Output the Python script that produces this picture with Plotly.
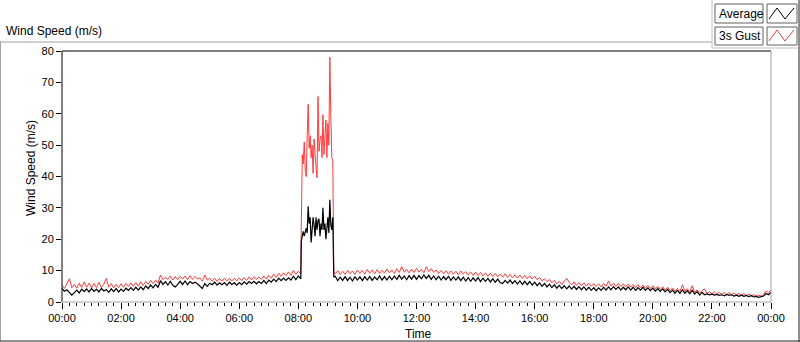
import numpy as np
import pandas as pd
import plotly.graph_objects as go

# ---------------- data (m/s) ----------------
# 00:00 - 08:05, every 5 minutes
avg_seg1 = [4.3, 3.4, 3.9, 2.9, 2.2, 3.0, 3.8, 2.9, 4.1, 3.3,
            4.2, 3.2, 4.3, 3.4, 4.1, 3.2, 4.3, 3.5, 4.0, 3.1,
            4.2, 3.3, 4.3, 3.2, 4.1, 3.4, 4.4, 3.7, 4.6, 3.7,
            4.7, 3.8, 4.8, 3.9, 5.1, 4.3, 5.4, 4.5, 5.6, 4.7,
            6.8, 5.6, 6.5, 5.4, 6.6, 5.3, 4.8, 5.6, 6.6, 5.6,
            6.7, 5.5, 6.5, 5.9, 6.3, 5.8, 5.2, 4.3, 5.9, 5.0,
            6.0, 5.5, 6.3, 5.4, 6.1, 5.5, 6.2, 5.3, 6.3, 5.6,
            6.1, 5.4, 6.2, 5.5, 6.4, 5.7, 6.5, 5.9, 6.6, 5.8,
            6.5, 5.9, 6.9, 5.9, 7.0, 6.3, 7.3, 6.5, 7.6, 6.8,
            7.6, 6.9, 7.7, 7.0, 8.2, 7.1, 8.3, 7.4]
gust_seg1 = [5.4, 4.3, 5.8, 7.4, 4.6, 5.6, 4.4, 6.0, 4.6, 6.4,
             4.7, 6.0, 4.5, 5.9, 4.6, 6.3, 4.6, 5.7, 7.5, 4.7,
             5.9, 4.5, 5.6, 4.6, 5.8, 4.7, 5.9, 4.9, 6.1, 5.0,
             6.2, 5.0, 6.4, 5.3, 6.6, 5.6, 6.9, 5.9, 7.0, 6.1,
             8.6, 7.1, 7.9, 7.2, 8.3, 7.0, 8.1, 7.1, 8.2, 7.3,
             8.3, 7.1, 8.4, 7.2, 8.2, 7.3, 7.7, 6.6, 8.6, 7.0,
             7.6, 6.6, 7.6, 6.6, 7.5, 6.6, 7.6, 6.7, 7.5, 6.7,
             7.6, 6.7, 7.7, 6.8, 7.8, 6.9, 8.0, 7.0, 8.1, 7.2,
             8.0, 7.2, 8.3, 7.3, 8.5, 7.6, 8.9, 7.9, 9.2, 8.2,
             9.3, 8.4, 9.6, 8.5, 10.1, 8.8, 9.8, 9.0]

# 08:06 - 09:12 storm, every 2 minutes
avg_storm = [19.5, 21, 22.5, 21, 23, 23.5, 22, 30.5, 25, 27,
             19, 24, 27, 24.4, 21, 27, 23, 26, 26.5, 21,
             25, 23, 30, 23, 25, 20, 24, 27, 22, 32.6,
             24.5, 23, 27, 8]
gust_storm = [24, 47, 44, 51, 42, 40, 53, 63, 49, 53,
              46, 50, 41, 52, 47, 43, 39.6, 65.5, 48, 52,
              53, 46, 59.7, 47, 52, 58, 46, 57, 50, 78,
              59, 46, 45, 10]

# 09:15 - 24:00, every 5 minutes
avg_seg3 = [8.2, 6.8, 7.9, 6.9, 8.1, 6.8, 7.9, 6.7, 8.0, 7.0,
            8.0, 6.8, 8.1, 7.0, 8.1, 6.9, 8.0, 7.1, 8.3, 7.0,
            8.1, 7.0, 8.2, 7.1, 8.3, 7.2, 8.5, 7.3, 8.3, 7.1,
            8.4, 7.3, 8.5, 7.2, 8.4, 7.4, 8.6, 7.5, 8.5, 7.2,
            8.3, 7.1, 8.2, 7.0, 8.1, 7.1, 8.2, 6.9, 8.0, 7.0,
            8.0, 6.8, 7.9, 6.7, 7.8, 6.6, 7.7, 6.7, 7.8, 6.5,
            7.6, 6.6, 7.5, 6.4, 7.4, 6.3, 7.3, 6.2, 5.9, 6.9,
            6.0, 7.0, 5.9, 6.8, 5.7, 6.7, 5.6, 6.6, 5.5, 6.5,
            5.4, 6.3, 5.2, 6.1, 5.0, 5.9, 4.8, 5.7, 4.6, 5.5,
            4.4, 5.3, 4.3, 5.2, 4.2, 5.1, 4.1, 5.0, 4.0, 4.9,
            3.9, 4.8, 3.8, 4.7, 3.7, 4.6, 3.6, 4.5, 3.7, 4.7,
            3.8, 4.8, 3.9, 4.9, 4.0, 4.8, 3.8, 4.7, 3.9, 4.8,
            3.8, 4.7, 3.7, 4.6, 3.8, 4.7, 3.7, 4.5, 3.6, 4.4,
            3.5, 4.3, 3.4, 4.2, 3.2, 4.0, 3.0, 3.8, 2.8, 3.7,
            2.7, 3.9, 2.8, 3.6, 2.6, 3.7, 2.5, 3.3, 2.2, 3.1,
            2.3, 2.6, 2.3, 2.5, 2.2, 2.4, 2.1, 2.3, 2.0, 2.4,
            2.1, 2.3, 1.9, 2.2, 1.8, 2.2, 1.8, 2.1, 1.7, 2.0,
            1.6, 1.8, 1.5, 1.8, 1.9, 2.7, 2.3, 3.1]
gust_seg3 = [8.9, 10.0, 8.7, 9.8, 8.8, 10.1, 9.0, 9.9, 8.8, 10.2,
             9.1, 10.1, 8.9, 10.4, 9.2, 10.2, 9.0, 10.3, 9.1, 10.1,
             9.2, 10.5, 9.3, 10.2, 9.1, 10.6, 9.4, 11.3, 9.5, 10.4,
             9.3, 10.5, 9.4, 10.7, 9.5, 10.4, 9.3, 11.3, 9.7, 10.6,
             9.4, 10.2, 9.1, 10.1, 9.0, 10.0, 8.9, 9.9, 8.8, 9.8,
             8.7, 9.9, 8.9, 9.7, 8.6, 9.6, 8.5, 9.5, 8.4, 9.4,
             8.3, 9.3, 8.2, 9.2, 8.1, 9.1, 8.0, 8.9, 7.9, 9.0,
             7.8, 8.8, 7.7, 8.7, 7.6, 8.6, 7.5, 8.5, 7.4, 8.4,
             7.3, 8.2, 7.1, 7.8, 6.7, 7.5, 6.5, 7.2, 6.1, 6.9,
             5.8, 6.6, 5.6, 6.5, 7.6, 6.3, 5.4, 6.4, 5.3, 6.2,
             5.2, 6.1, 5.1, 6.0, 5.0, 5.9, 4.9, 5.8, 4.8, 5.9,
             5.0, 6.7, 5.1, 6.0, 5.0, 5.9, 4.9, 5.8, 4.8, 5.7,
             4.7, 5.6, 4.6, 5.5, 4.5, 5.4, 4.4, 5.3, 4.3, 5.2,
             4.2, 5.0, 4.0, 4.9, 3.8, 4.7, 3.6, 4.5, 3.4, 4.3,
             3.3, 5.5, 3.5, 4.2, 3.2, 5.2, 3.1, 3.9, 2.8, 3.6,
             4.2, 2.7, 3.3, 2.6, 3.2, 2.5, 3.1, 2.4, 3.0, 2.3,
             3.0, 2.3, 2.9, 2.2, 2.8, 2.1, 2.7, 2.0, 2.5, 2.0,
             2.3, 1.9, 2.2, 1.9, 2.4, 3.5, 3.0, 3.8]

y_ticks = [0, 10, 20, 30, 40, 50, 60, 70, 80]
series_names = ["Average", "3s Gust"]

# ---------------- sampling grid ----------------
day = pd.Timestamp("2024-01-01")
m1 = np.arange(len(avg_seg1)) * 5
m2 = 486 + np.arange(len(avg_storm)) * 2
m3 = 555 + np.arange(len(avg_seg3)) * 5
minutes = np.concatenate([m1, m2, m3])
t = day + pd.to_timedelta(minutes, unit="min")
avg = avg_seg1 + avg_storm + avg_seg3
gust = gust_seg1 + gust_storm + gust_seg3

W, H = 800, 342
L, R, T, B = 62, 771, 51, 302


def PX(px):
    return (px - L) / (R - L)


def PY(py):
    return (B - py) / (B - T)


FONT = "Liberation Sans, Arial, sans-serif"
fig = go.Figure()
fig.add_trace(go.Scatter(x=t, y=gust, mode="lines", name=series_names[1],
                         line=dict(color="#ff3b3b", width=1)))
fig.add_trace(go.Scatter(x=t, y=avg, mode="lines", name=series_names[0],
                         line=dict(color="#000000", width=1.2)))

fig.update_layout(
    width=W, height=H, showlegend=False,
    margin=dict(l=L, r=W - R, t=T, b=H - B, autoexpand=False),
    paper_bgcolor="white", plot_bgcolor="white",
    font=dict(family=FONT, size=11, color="#000000"),
    xaxis=dict(type="date", range=[day, day + pd.Timedelta(days=1)],
               dtick=2 * 3600 * 1000, tick0=day, tickformat="%H:%M",
               ticks="outside", ticklen=6, tickcolor="#000000", tickwidth=1,
               minor=dict(dtick=15 * 60 * 1000, ticks="outside", ticklen=3,
                          tickcolor="#000000", showgrid=False),
               showgrid=False, zeroline=False, showline=False, automargin=False,
               tickfont=dict(size=11), fixedrange=True),
    yaxis=dict(range=[0, 80], tickvals=y_ticks, ticks="outside", ticklen=5,
               tickcolor="#000000", showgrid=False, zeroline=False, automargin=False,
               showline=False, tickfont=dict(size=11), fixedrange=True),
)

shapes = []
def line(x0, y0, x1, y1, color, width=1):
    shapes.append(dict(type="line", xref="paper", yref="paper",
                       x0=PX(x0), y0=PY(y0), x1=PX(x1), y1=PY(y1),
                       line=dict(color=color, width=width), layer="above"))

def rect(x0, y0, x1, y1, color, fill="white"):
    shapes.append(dict(type="rect", xref="paper", yref="paper",
                       x0=PX(x0), y0=PY(y0), x1=PX(x1), y1=PY(y1),
                       line=dict(color=color, width=1), fillcolor=fill,
                       layer="above"))

# plot frame
line(L, T, R, T, "#000000")
line(L, T, L, B, "#000000")
line(L, B, R, B, "#a0a0a0")
line(R, T, R, B, "#a0a0a0")
# outer panel
line(0, 42, 712, 42, "#a0a0a0")
line(712, 0, 712, 48, "#c0c0c0")
line(712, 48, 798, 48, "#c0c0c0")
line(0.5, 42, 0.5, 341, "#a0a0a0")
line(0, 341, 800, 341, "#202020")
line(799, 0, 799, 342, "#202020")
# legend boxes
rect(715, 4, 763, 23, "#606060")
rect(767, 4, 797, 23, "#606060")
rect(715, 27, 763, 45, "#606060")
rect(767, 27, 797, 45, "#606060")


def zig(y_lo, y_hi):
    pts = [(769, y_lo), (777, y_hi), (785, y_lo), (794, y_hi)]
    return "M " + " L ".join(f"{PX(a):.5f},{PY(b):.5f}" for a, b in pts)

shapes.append(dict(type="path", xref="paper", yref="paper", path=zig(19, 8),
                   line=dict(color="#000000", width=1), layer="above"))
shapes.append(dict(type="path", xref="paper", yref="paper", path=zig(41, 30),
                   line=dict(color="#ff3b3b", width=1), layer="above"))
fig.update_layout(shapes=shapes)

ann = [
    dict(text="Wind Speed (m/s)", x=PX(4), y=PY(31), xanchor="left", yanchor="middle",
         font=dict(size=12)),
    dict(text="Time", x=PX(418), y=PY(334), xanchor="center", yanchor="middle",
         font=dict(size=12)),
    dict(text="Wind Speed (m/s)", x=PX(31), y=PY(168), xanchor="center", yanchor="middle",
         textangle=-90, font=dict(size=12)),
    dict(text=series_names[0], x=PX(717), y=PY(14), xanchor="left", yanchor="middle",
         font=dict(size=12)),
    dict(text=series_names[1], x=PX(717), y=PY(36), xanchor="left", yanchor="middle",
         font=dict(size=12)),
]
for a in ann:
    a.update(xref="paper", yref="paper", showarrow=False)
fig.update_layout(annotations=ann)

fig.write_html("out.html", config={"displayModeBar": False},
               post_script="document.body.style.margin='0';")
